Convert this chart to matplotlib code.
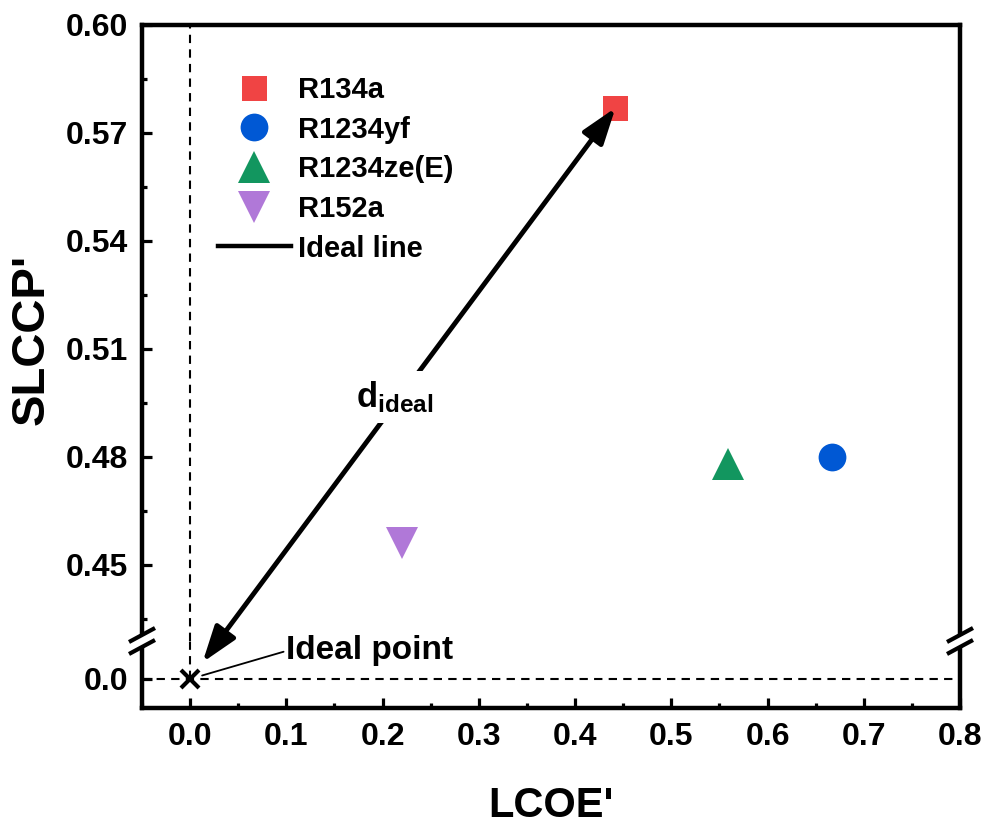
import matplotlib
matplotlib.use("Agg")
import matplotlib.pyplot as plt
from matplotlib.patches import ConnectionPatch, Polygon
from matplotlib.lines import Line2D
from matplotlib.ticker import MultipleLocator, FixedLocator, FormatStrFormatter

plt.rcParams['font.family'] = ['Liberation Sans', 'DejaVu Sans']
plt.rcParams['font.weight'] = 'bold'
plt.rcParams['mathtext.fontset'] = 'custom'
plt.rcParams['mathtext.rm'] = 'Liberation Sans:bold'
plt.rcParams['mathtext.bf'] = 'Liberation Sans:bold'
plt.rcParams['mathtext.it'] = 'Liberation Sans:bold'

# ---- data ----
refrigerants = ['R134a', 'R1234yf', 'R1234ze(E)', 'R152a']
lcoe = [0.442, 0.667, 0.559, 0.220]
slccp = [0.577, 0.480, 0.478, 0.456]
markers = ['s', 'o', '^', 'v']
colors = ['#F04444', '#0058D4', '#12965F', '#B078D8']
msizes = [18, 20, 23, 23]
ideal_point = (0.0, 0.0)
x_ticks = [0.0, 0.1, 0.2, 0.3, 0.4, 0.5, 0.6, 0.7, 0.8]
y_ticks_upper = [0.45, 0.48, 0.51, 0.54, 0.57, 0.60]
y_ticks_lower = [0.0]

W, H = 987, 825
fig = plt.figure(figsize=(W / 100, H / 100), dpi=100)

L = 142 / W
R = 960 / W
y_top = 1 - 25 / H
y_brk = 1 - 641 / H
y_bot = 1 - 708 / H
ax = fig.add_axes([L, y_brk, R - L, y_top - y_brk])
ax2 = fig.add_axes([L, y_bot, R - L, y_brk - y_bot])

spine_lw = 3.2
for a in (ax, ax2):
    for s in a.spines.values():
        s.set_linewidth(spine_lw)
    a.set_xlim(-0.05, 0.8)
    a.tick_params(which='both', direction='in', width=2.3, top=False, right=False)
    a.tick_params(which='major', length=7.5)
    a.tick_params(which='minor', length=3.8)
    a.tick_params(axis='both', labelsize=23)

ax.spines['bottom'].set_visible(False)
ax2.spines['top'].set_visible(False)

ax.set_ylim(0.60 - 616 / 108 * 0.03, 0.60)
ax2.set_ylim(-29 / 108 * 0.03, 38 / 108 * 0.03)

ax.yaxis.set_major_locator(FixedLocator(y_ticks_upper))
ax.yaxis.set_minor_locator(MultipleLocator(0.015))
ax.yaxis.set_major_formatter(FormatStrFormatter('%.2f'))
ax.tick_params(axis='x', which='both', bottom=False, labelbottom=False)
ax.tick_params(axis='y', pad=10)

ax2.yaxis.set_major_locator(FixedLocator(y_ticks_lower))
ax2.yaxis.set_minor_locator(FixedLocator([]))
ax2.yaxis.set_major_formatter(FormatStrFormatter('%.1f'))
ax2.xaxis.set_major_locator(FixedLocator(x_ticks))
ax2.xaxis.set_minor_locator(MultipleLocator(0.05))
ax2.xaxis.set_major_formatter(FormatStrFormatter('%.1f'))
ax2.tick_params(axis='x', pad=10)
ax2.tick_params(axis='y', pad=10)

# reference dashed lines
dash = (0, (4, 3))
ax.axvline(0, color='black', lw=1.5, ls=dash, zorder=1)
ax2.plot([0, 0], [0, ax2.get_ylim()[1]], color='black', lw=1.5, ls=dash, zorder=1)
ax2.axhline(0, color='black', lw=1.5, ls=dash, zorder=1)

# data markers
handles = []
for name, x, y, m, c, ms in zip(refrigerants, lcoe, slccp, markers, colors, msizes):
    h, = ax.plot([x], [y], marker=m, color=c, ms=ms, ls='none', mew=0, label=name, zorder=3)
    handles.append(h)

ideal_handle = Line2D([], [], color='black', lw=3.2, label='Ideal line')
handles.append(ideal_handle)

# ideal point marker
ax2.plot([ideal_point[0]], [ideal_point[1]], marker='x', color='black', ms=13, mew=3, ls='none',
         zorder=4, clip_on=False)
ax2.annotate('Ideal point', xy=ideal_point, xytext=(0.1, 0.0078), textcoords='data',
             fontsize=24, fontweight='bold', ha='left', va='center', annotation_clip=False,
             arrowprops=dict(arrowstyle='-', lw=1.3, color='black', shrinkA=0, shrinkB=9,
                             relpos=(0, 0.5)))

# ideal line arrow (distance to ideal point)
con = ConnectionPatch(xyA=ideal_point, coordsA=ax2.transData,
                      xyB=(lcoe[0], slccp[0]), coordsB=ax.transData,
                      arrowstyle='<|-|>,head_length=2.2,head_width=0.75', mutation_scale=10,
                      lw=3.5, color='black', shrinkA=15, shrinkB=0, zorder=5)
fig.add_artist(con)
fig.text(0.213, 0.4966, r'$\mathbf{d}_{\mathbf{ideal}}$', transform=ax.transData,
         fontsize=25, ha='center', va='center', zorder=6,
         bbox=dict(facecolor='white', edgecolor='none', pad=6))

# legend
leg = ax.legend(handles=handles, loc='upper left', bbox_to_anchor=(218 / W, 1 - 76 / H),
                bbox_transform=fig.transFigure, frameon=False, fontsize=21, numpoints=1,
                handlelength=2.5, handletextpad=0.25, labelspacing=0.4, borderpad=0,
                borderaxespad=0)

# axis labels
ax2.set_xlabel("LCOE'", fontsize=30, fontweight='bold')
ax2.xaxis.set_label_coords(0.5, -1.17)
ax.set_ylabel("SLCCP'", fontsize=34, fontweight='bold')
ax.yaxis.set_label_coords(-0.108, 0.489)

# axis break marks
def brk(xc_px):
    yc = 641
    dx, dy = 13, 7
    off = 6
    poly = Polygon([[(xc_px - dx) / W, 1 - (yc + off + dy) / H],
                    [(xc_px + dx) / W, 1 - (yc + off - dy) / H],
                    [(xc_px + dx) / W, 1 - (yc - off - dy) / H],
                    [(xc_px - dx) / W, 1 - (yc - off + dy) / H]],
                   closed=True, transform=fig.transFigure, facecolor='white', edgecolor='none',
                   zorder=7)
    fig.add_artist(poly)
    for o in (-off, off):
        ln = Line2D([(xc_px - dx) / W, (xc_px + dx) / W],
                    [1 - (yc + o + dy) / H, 1 - (yc + o - dy) / H],
                    transform=fig.transFigure, color='black', lw=3, zorder=8,
                    solid_capstyle='butt')
        fig.add_artist(ln)

brk(142)
brk(960)

fig.savefig('out.png', dpi=100)
